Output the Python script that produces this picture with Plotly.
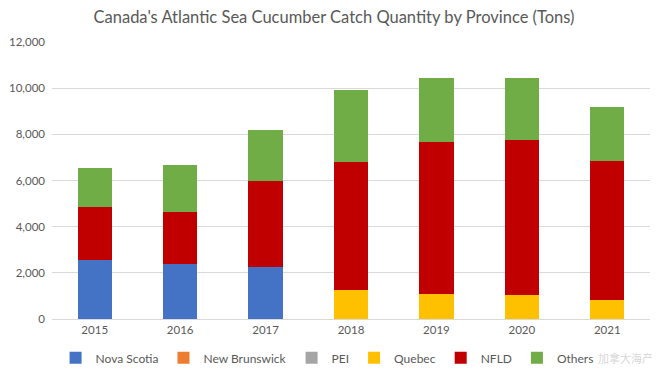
import plotly.graph_objects as go

years = ["2015", "2016", "2017", "2018", "2019", "2020", "2021"]
nova_scotia = [2550, 2370, 2260, 0, 0, 0, 0]
new_brunswick = [0, 0, 0, 0, 0, 0, 0]
pei = [0, 0, 0, 0, 0, 0, 0]
quebec = [0, 0, 0, 1250, 1070, 1030, 820]
nfld = [2300, 2250, 3720, 5560, 6600, 6720, 6030]
others = [1680, 2060, 2200, 3130, 2750, 2700, 2340]

series = [
    ("Nova Scotia", nova_scotia, "#4472C4"),
    ("New Brunswick", new_brunswick, "#ED7D31"),
    ("PEI", pei, "#A5A5A5"),
    ("Quebec", quebec, "#FFC000"),
    ("NFLD", nfld, "#C00000"),
    ("Others", others, "#70AD47"),
]

font_family = "Lato, Open Sans, sans-serif"

fig = go.Figure()
for name, vals, color in series:
    fig.add_trace(go.Bar(x=years, y=vals, name=name, marker=dict(color=color, line=dict(width=0)),
                         hoverinfo="x+y+name"))

fig.update_layout(
    barmode="stack",
    bargap=0.6,
    width=652, height=373,
    margin=dict(l=44, r=10, t=34, b=62, autoexpand=False),
    paper_bgcolor="white", plot_bgcolor="white",
    font=dict(family=font_family, color="#595959", size=12),
    title=dict(text="Canada's Atlantic Sea Cucumber Catch Quantity by Province (Tons)",
               x=0.5, xanchor="center", y=0.976, yanchor="middle",
               font=dict(size=16.5, color="#595959", family=font_family)),
    legend=dict(orientation="h", x=0.46, xanchor="center", yref="container", y=0.062, yanchor="middle",
                font=dict(size=12, color="#595959"), itemwidth=30, traceorder="normal"),
    yaxis=dict(range=[0, 12000], dtick=2000, tickformat=",", gridcolor="#D9D9D9",
               gridwidth=1, zeroline=False, showline=False, ticks="", ticklabelstandoff=6,
               tickfont=dict(size=11.5)),
    xaxis=dict(showline=True, linecolor="#D9D9D9", linewidth=1, ticks="", tickfont=dict(size=11.5)),
)

fig.add_annotation(text="加拿大海产", xref="paper", yref="paper", x=1.008, y=-0.141,
                   xanchor="right", yanchor="middle", showarrow=False,
                   font=dict(family="Noto Sans CJK SC", size=11, color="rgba(210,210,210,0.9)"))

fig.write_html("out.html")
